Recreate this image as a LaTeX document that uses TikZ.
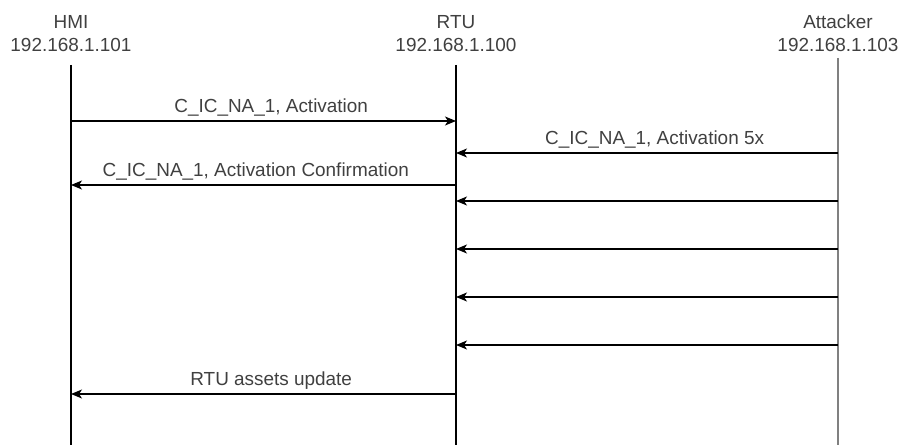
\documentclass[tikz,border=0pt]{standalone}
\usepackage{fontspec}
\setmainfont{Liberation Sans}
\usetikzlibrary{arrows.meta}
\begin{document}
\begin{tikzpicture}[x=1bp,y=-1bp,
  every node/.style={inner sep=0pt, outer sep=0pt, text=black!75, font=\fontsize{19}{24}\selectfont},
  header/.style={align=center, anchor=base},
  lifeline/.style={draw=black, line width=1.3bp},
  attline/.style={draw=black!50, line width=2.6bp},
  msg/.style={draw=black, line width=1.3bp, -{Stealth[length=11bp, width=9bp, inset=3bp]}},
  lbl/.style={anchor=base}]
\useasboundingbox (0,0) rectangle (904,445);
% headers
\node[header] (hmiH) at (71,52) {HMI\\192.168.1.101};
\node[header] (rtuH) at (456,52) {RTU\\192.168.1.100};
\node[header] (attH) at (838,52) {Attacker\\192.168.1.103};
% lifelines
\coordinate (hT) at (71,65);  \coordinate (hB) at (71,445);
\coordinate (rT) at (456,65); \coordinate (rB) at (456,445);
\coordinate (aT) at (838,58); \coordinate (aB) at (838,445);
\draw[lifeline] (hT) -- (hB);
\draw[lifeline] (rT) -- (rB);
\draw[attline] (aT) -- (aB);
% message end points
\foreach \n/\y in {1/121,2/153,3/185,4/201,5/249,6/297,7/345,8/394}{
  \coordinate (h\n) at (71,\y);
  \coordinate (r\n) at (456,\y);
  \coordinate (a\n) at (838,\y);
}
\draw[msg] (h1) -- (r1) node[lbl, pos=0.52, yshift=8bp] (l1) {C\_IC\_NA\_1, Activation};
\draw[msg] (a2) -- (r2) node[lbl, pos=0.48, yshift=8bp] (l2) {C\_IC\_NA\_1, Activation 5x};
\draw[msg] (r3) -- (h3) node[lbl, pos=0.52, yshift=8bp] (l3) {C\_IC\_NA\_1, Activation Confirmation};
\draw[msg] (a4) -- (r4);
\draw[msg] (a5) -- (r5);
\draw[msg] (a6) -- (r6);
\draw[msg] (a7) -- (r7);
\draw[msg] (r8) -- (h8) node[lbl, pos=0.48, yshift=8bp] (l8) {RTU assets update};
\end{tikzpicture}
\end{document}
